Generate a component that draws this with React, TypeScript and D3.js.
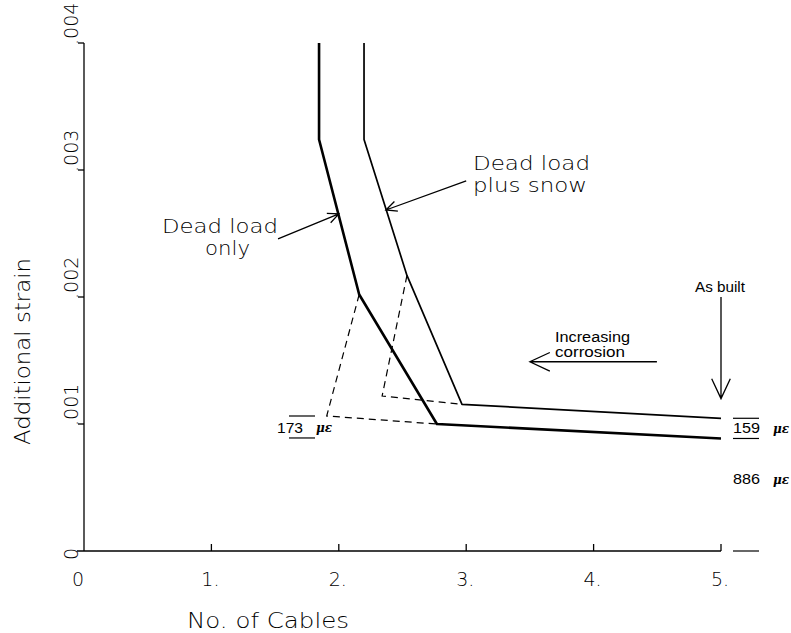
import React, { useEffect, useRef } from 'react';
import * as d3 from 'd3';

// curves (x = number of cables, y = additional strain)
const deadLoadX = [1.845, 1.845, 2.16, 2.77, 5.0];
const deadLoadY = [0.004, 0.00324, 0.00202, 0.001, 0.000886];
const snowX = [2.198, 2.198, 2.535, 2.967, 5.0];
const snowY = [0.004, 0.00324, 0.00217, 0.001155, 0.001045];
// dashed construction lines
const deadDashX = [2.16, 1.905, 2.77];
const deadDashY = [0.00202, 0.001063, 0.001];
const snowDashX = [2.535, 2.34, 2.967];
const snowDashY = [0.00217, 0.00122, 0.001155];

const xTicks = [0, 1, 2, 3, 4, 5];
const xTickLabels = ['0', '1.', '2.', '3.', '4.', '5.'];
const yTicks = [0, 0.001, 0.002, 0.003, 0.004];
const yTickLabels = ['0', '.001', '.002', '.003', '.004'];

const W = 791;
const H = 633;
const margin = { top: 43, right: 70, bottom: 82, left: 84 };

const hershey = '"DejaVu Sans", sans-serif';
const arial = '"Liberation Sans", Arial, sans-serif';

const App = () => {
  const svgRef = useRef<SVGSVGElement>(null);

  useEffect(() => {
    const svg = d3.select(svgRef.current);
    svg.selectAll('*').remove();

    const x = d3.scaleLinear().domain([0, 5]).range([margin.left, W - margin.right]);
    const y = d3.scaleLinear().domain([0, 0.004]).range([H - margin.bottom, margin.top]);

    const g = svg.append('g');

    // axes
    g.append('line')
      .attr('x1', x(0)).attr('x2', x(0))
      .attr('y1', y(0)).attr('y2', y(0.004))
      .attr('stroke', '#000').attr('stroke-width', 1.3);
    g.append('line')
      .attr('x1', x(0) - 7).attr('x2', x(5))
      .attr('y1', y(0)).attr('y2', y(0))
      .attr('stroke', '#000').attr('stroke-width', 1.3);

    xTicks.forEach((t, i) => {
      if (t > 0) {
        g.append('line')
          .attr('x1', x(t)).attr('x2', x(t))
          .attr('y1', y(0)).attr('y2', y(0) - 7)
          .attr('stroke', '#000').attr('stroke-width', 1.3);
      }
      g.append('text')
        .attr('x', t === 0 ? x(t) - 6 : x(t) - 1)
        .attr('y', 586)
        .attr('text-anchor', 'middle')
        .style('font-family', hershey)
        .style('font-weight', 200)
        .style('font-size', '19px')
        .text(xTickLabels[i]);
    });

    yTicks.forEach((t, i) => {
      if (t > 0) {
        g.append('line')
          .attr('x1', x(0) - 6).attr('x2', x(0))
          .attr('y1', y(t)).attr('y2', y(t))
          .attr('stroke', '#000').attr('stroke-width', 1.3);
      }
      const py = t === 0 ? y(t) + 9 : y(t) + 2;
      g.append('text')
        .attr('transform', `translate(78,${py}) rotate(-90)`)
        .attr('text-anchor', 'start')
        .style('font-family', hershey)
        .style('font-weight', 200)
        .style('font-size', '19px')
        .text(yTickLabels[i]);
    });

    // axis titles
    g.append('text')
      .attr('x', 187).attr('y', 628)
      .attr('textLength', 162).attr('lengthAdjust', 'spacingAndGlyphs')
      .style('font-family', hershey).style('font-weight', 200).style('font-size', '22px')
      .text('No.  of  Cables');
    g.append('text')
      .attr('transform', 'translate(30,445) rotate(-90)')
      .attr('textLength', 187).attr('lengthAdjust', 'spacingAndGlyphs')
      .style('font-family', hershey).style('font-weight', 200).style('font-size', '22px')
      .text('Additional  strain');

    // curves
    const path = (xs: number[], ys: number[]) =>
      d3.line<number>().x((d) => x(xs[d])).y((d) => y(ys[d]))(d3.range(xs.length));

    g.append('path').attr('d', path(deadLoadX, deadLoadY))
      .attr('fill', 'none').attr('stroke', '#000').attr('stroke-width', 2.6)
      .attr('stroke-linejoin', 'round');
    g.append('path').attr('d', path(snowX, snowY))
      .attr('fill', 'none').attr('stroke', '#000').attr('stroke-width', 1.7)
      .attr('stroke-linejoin', 'round');
    g.append('path').attr('d', path(deadDashX, deadDashY))
      .attr('fill', 'none').attr('stroke', '#000').attr('stroke-width', 1.2)
      .attr('stroke-dasharray', '7,5');
    g.append('path').attr('d', path(snowDashX, snowDashY))
      .attr('fill', 'none').attr('stroke', '#000').attr('stroke-width', 1.2)
      .attr('stroke-dasharray', '7,5');

    // arrows (open heads)
    const arrow = (x1: number, y1: number, x2: number, y2: number, len: number, sw = 1.3) => {
      const a = Math.atan2(y1 - y2, x1 - x2);
      const spread = (25 * Math.PI) / 180;
      const d = `M${x1},${y1}L${x2},${y2}` +
        `M${x2 + len * Math.cos(a + spread)},${y2 + len * Math.sin(a + spread)}L${x2},${y2}` +
        `L${x2 + len * Math.cos(a - spread)},${y2 + len * Math.sin(a - spread)}`;
      g.append('path').attr('d', d).attr('fill', 'none')
        .attr('stroke', '#000').attr('stroke-width', sw);
    };

    arrow(x(1.523), y(0.002457), x(2.0), y(0.002654), 12);
    arrow(x(3.0), y(0.002915), x(2.37), y(0.002685), 12);
    arrow(x(4.497), y(0.00149), x(3.5), y(0.00149), 22);
    arrow(x(5.0), y(0.00200), x(5.0), y(0.00120), 22);

    const label = (px: number, py: number, txt: string, size: number, fam: string, weight: number, len?: number, anchor = 'start') => {
      const t = g.append('text').attr('x', px).attr('y', py)
        .attr('text-anchor', anchor)
        .style('font-family', fam).style('font-weight', weight).style('font-size', `${size}px`)
        .text(txt);
      if (len) t.attr('textLength', len).attr('lengthAdjust', 'spacingAndGlyphs');
      return t;
    };

    label(162, 233, 'Dead  load', 19, hershey, 200, 116);
    label(205, 255, 'only', 19, hershey, 200, 45);
    label(473, 170, 'Dead  load', 19, hershey, 200, 117);
    label(473, 192, 'plus  snow', 19, hershey, 200, 114);

    label(555, 342, 'Increasing', 14, arial, 400, 75);
    label(555, 357, 'corrosion', 14, arial, 400, 70);
    label(695, 292, 'As  built', 14, arial, 400, 50);

    // strain dimension marks
    const dash = (x1: number, x2: number, v: number) =>
      g.append('line').attr('x1', x1).attr('x2', x2)
        .attr('y1', y(v)).attr('y2', y(v))
        .attr('stroke', '#000').attr('stroke-width', 1.2);
    dash(289, 315, 0.001063);
    dash(289, 315, 0.00089);
    dash(733, 759, 0.001045);
    dash(733, 759, 0.000886);
    dash(733, 759, 0);

    const mu = (px: number, py: number) =>
      g.append('text').attr('x', px).attr('y', py)
        .style('font-family', '"DejaVu Serif", serif').style('font-style', 'italic')
        .style('font-weight', 'bold').style('font-size', '12px').text('\u03bc\u03b5');

    label(277, 433, '173', 15, arial, 400, 26);
    mu(316, 432);
    label(733, 433, '159', 15, arial, 400, 27);
    mu(773, 433);
    label(733, 484, '886', 15, arial, 400, 27);
    mu(773, 484);

    return () => { svg.selectAll('*').remove(); };
  }, []);

  return (
    <svg
      ref={svgRef}
      width={W}
      height={H}
      style={{ position: 'absolute', left: 0, top: 0, background: '#fff' }}
    />
  );
};

export default App;
